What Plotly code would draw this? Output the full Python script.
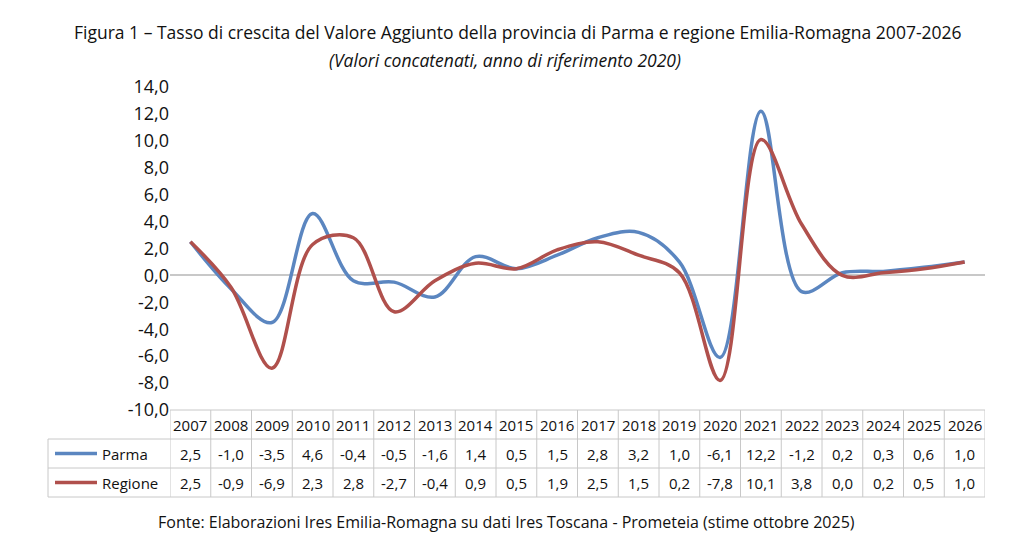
import plotly.graph_objects as go

years = [str(y) for y in range(2007, 2027)]
parma = [2.5, -1.0, -3.5, 4.6, -0.4, -0.5, -1.6, 1.4, 0.5, 1.5, 2.8, 3.2, 1.0, -6.1, 12.2, -1.2, 0.2, 0.3, 0.6, 1.0]
regione = [2.5, -0.9, -6.9, 2.3, 2.8, -2.7, -0.4, 0.9, 0.5, 1.9, 2.5, 1.5, 0.2, -7.8, 10.1, 3.8, 0.0, 0.2, 0.5, 1.0]
yticks = list(range(-10, 15, 2))

blue = "#5B86C0"
red = "#B0504C"
grid = "#C8C8C8"

# page has an 8px body margin, so target positions are shifted back by 8
OFF = 8
W, H = 1030, 552
L, R, T, B = 170 - OFF, 45 + OFF, 87 - OFF, 142 + OFF
pw, ph = W - L - R, H - T - B

def px(x):
    return (x - OFF - L) / pw

def py(y):
    return (H - B - (y - OFF)) / ph

def fmt(v):
    return f"{v:.1f}".replace(".", ",")

fig = go.Figure()
for name, vals, col in [("Parma", parma, blue), ("Regione", regione, red)]:
    fig.add_trace(go.Scatter(x=list(range(len(years))), y=vals, mode="lines", name=name,
                             line=dict(color=col, width=3.5, shape="spline", smoothing=1.0),
                             showlegend=False))

shapes = []
ann = []
rows_y = [410, 439, 468, 497]
shapes.append(dict(type="line", xref="x", yref="paper", x0=-0.5, x1=19.5, y0=py(410), y1=py(410), line=dict(color=grid, width=1)))
for yy in rows_y[1:]:
    shapes.append(dict(type="line", xref="paper", yref="paper", x0=px(48), x1=1, y0=py(yy), y1=py(yy), line=dict(color=grid, width=1)))
for i in range(21):
    shapes.append(dict(type="line", xref="x", yref="paper", x0=i - 0.5, x1=i - 0.5, y0=py(410), y1=py(497), line=dict(color=grid, width=1)))
shapes.append(dict(type="line", xref="paper", yref="paper", x0=px(48), x1=px(48), y0=py(439), y1=py(497), line=dict(color=grid, width=1)))

cell = dict(showarrow=False, yanchor="middle", font=dict(size=15))
for i, yr in enumerate(years):
    ann.append(dict(x=i, y=py(424.5), xref="x", yref="paper", text=yr, **cell))
    ann.append(dict(x=i, y=py(453.5), xref="x", yref="paper", text=fmt(parma[i]), **cell))
    ann.append(dict(x=i, y=py(482.5), xref="x", yref="paper", text=fmt(regione[i]), **cell))

for name, col, yy in [("Parma", blue, 453.5), ("Regione", red, 482.5)]:
    shapes.append(dict(type="line", xref="paper", yref="paper", x0=px(55), x1=px(97), y0=py(yy), y1=py(yy), line=dict(color=col, width=3.5)))
    ann.append(dict(x=px(100), y=py(yy), xref="paper", yref="paper", text=name, xanchor="left", **cell))

ann.append(dict(x=px(518), y=py(32), xref="paper", yref="paper", xanchor="center", yanchor="middle",
                text="Figura 1 – Tasso di crescita del Valore Aggiunto della provincia di Parma e regione Emilia-Romagna 2007-2026",
                showarrow=False, font=dict(size=17.5)))
ann.append(dict(x=px(505), y=py(60), xref="paper", yref="paper", xanchor="center", yanchor="middle",
                text="<i>(Valori concatenati, anno di riferimento 2020)</i>", showarrow=False, font=dict(size=17.5)))
ann.append(dict(x=px(506), y=py(522), xref="paper", yref="paper", xanchor="center", yanchor="middle",
                text="Fonte: Elaborazioni Ires Emilia-Romagna su dati Ires Toscana - Prometeia (stime ottobre 2025)",
                showarrow=False, font=dict(size=16)))

fig.update_layout(
    width=W, height=H, margin=dict(l=L, r=R, t=T, b=B),
    plot_bgcolor="white", paper_bgcolor="white",
    font=dict(family="Open Sans, Liberation Sans, sans-serif", color="#111", size=14),
    shapes=shapes, annotations=ann,
    xaxis=dict(range=[-0.5, 19.5], showticklabels=False, showgrid=False, zeroline=False, fixedrange=True),
    yaxis=dict(range=[-10, 14], tickvals=yticks, ticktext=[fmt(v) for v in yticks], showgrid=False,
               zeroline=True, zerolinecolor="#C8C8C8", zerolinewidth=1.5, tickfont=dict(size=18),
               ticks="", ticklen=0),
)

fig.write_html("out.html")
